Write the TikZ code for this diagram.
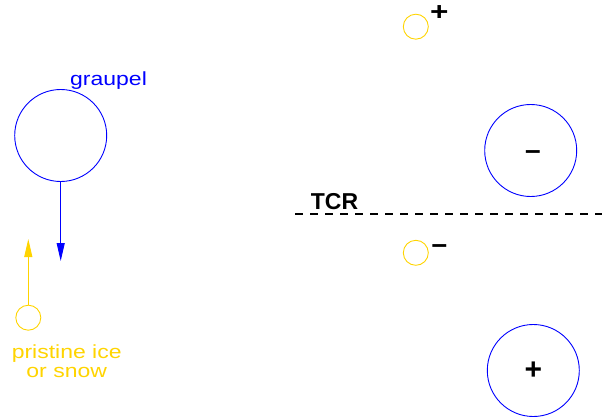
\documentclass[tikz,border=0pt]{standalone}
\usepackage{fontspec}
\usepackage{graphicx}
\setmainfont{Liberation Sans}
\usetikzlibrary{arrows.meta}
\definecolor{figblue}{RGB}{0,0,255}
\definecolor{figgold}{RGB}{255,212,0}
\newcommand{\widetxt}[1]{\scalebox{1.21}[1]{#1}}
\begin{document}
\begin{tikzpicture}[x=1pt,y=-1pt,
  particle/.style={circle,draw=figblue,line width=0.9pt,minimum size=92pt,inner sep=0pt},
  crystal/.style={circle,draw=figgold,line width=0.9pt,minimum size=25pt,inner sep=0pt},
  fall/.style={-{Triangle[length=18pt,width=8pt]},line width=0.9pt},
  lbl/.style={inner sep=0pt,font=\fontsize{19}{19.6}\selectfont},
  sign/.style={inner sep=0pt,font=\fontsize{30}{30}\bfseries\selectfont},
  dsign/.style={inner sep=0pt,font=\fontsize{28}{28}\bfseries\selectfont,anchor=base}]
\useasboundingbox (0,0) rectangle (602,417);
% graupel
\node[particle] (graupel) at (60.7,135.5) {};
\node[lbl,text=figblue,anchor=base west] (glabel) at (70,86) {\widetxt{graupel}};
\coordinate (gtip) at (60.7,261);
\draw[fall,figblue] (graupel.south) -- (gtip);
% pristine ice
\node[crystal] (ice) at (28.3,317.7) {};
\coordinate (itip) at (28.3,239);
\draw[fall,figgold] (ice.north) -- (itip);
\node[lbl,text=figgold,align=center,anchor=base] (ilabel) at (66.7,377.7) {\widetxt{pristine ice}\\\widetxt{or snow}};
% right side
\node[crystal] (c1) at (415.8,26.7) {};
\node[sign] (p1) at (439.3,13.3) {\scalebox{1.05}[0.85]{+}};
\node[particle] (g1) at (530.7,150.5) {};
\node[dsign] (m1) at (533,159.1) {–};
\coordinate (tcrL) at (295,214.3);
\coordinate (tcrR) at (602,214.3);
\draw[line width=2pt,dash pattern=on 8pt off 7pt] (tcrL) -- (tcrR);
\node[inner sep=0pt,anchor=base west,font=\fontsize{23}{23}\bfseries\selectfont] (tcr) at (310.7,209.3) {TCR};
\node[crystal] (c2) at (415.8,252.8) {};
\node[dsign] (m2) at (439.3,253.1) {–};
\node[particle] (g2) at (533.3,370.5) {};
\node[sign] (p2) at (533.3,371) {+};
\end{tikzpicture}
\end{document}
